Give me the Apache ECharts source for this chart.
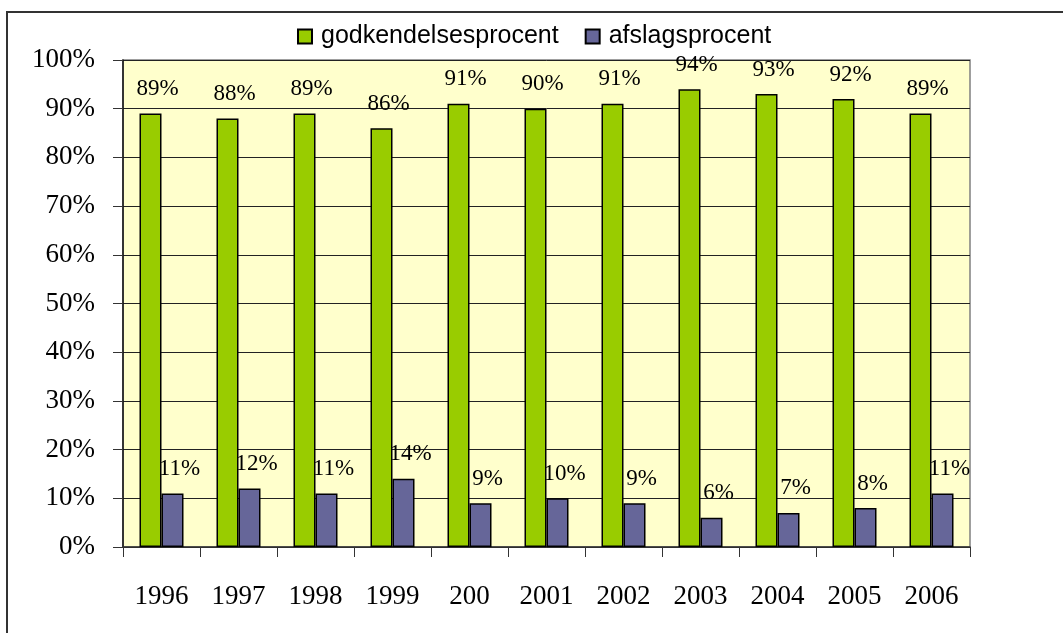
<!doctype html>
<html lang="da">
<head>
    <meta charset="utf-8">
    <title>godkendelsesprocent / afslagsprocent</title>
    <script src="https://cdn.jsdelivr.net/npm/echarts@6/dist/echarts.min.js"></script>
    <style>
        html, body { margin: 0; padding: 0; background: #ffffff; }
        #main { width: 1063px; height: 633px; }
    </style>
</head>
<body>
<div id="main"></div>
<script type="text/javascript">
    // data
    var years = ['1996', '1997', '1998', '1999', '200', '2001', '2002', '2003', '2004', '2005', '2006'];
    var godkendelse = [89, 88, 89, 86, 91, 90, 91, 94, 93, 92, 89];
    var afslag = [11, 12, 11, 14, 9, 10, 9, 6, 7, 8, 11];
    var yTicks = [0, 10, 20, 30, 40, 50, 60, 70, 80, 90, 100];

    var serif = 'Liberation Serif, Times New Roman, serif';
    var sans = 'Liberation Sans, Arial, sans-serif';

    var chart = echarts.init(document.getElementById('main'));

    function barLabel() {
        return {
            show: true,
            position: 'top',
            distance: 13,
            offset: [7, 0],
            formatter: '{c}%',
            fontFamily: serif,
            fontSize: 23,
            color: '#000'
        };
    }

    var option = {
        animation: false,
        backgroundColor: '#ffffff',
        graphic: [{
            type: 'rect',
            shape: { x: 7, y: 12, width: 1200, height: 800 },
            style: { fill: 'none', stroke: '#333', lineWidth: 2 },
            silent: true
        }],
        legend: {
            left: 292,
            top: 19,
            itemWidth: 14,
            itemHeight: 14,
            itemGap: 26,
            icon: 'rect',
            textStyle: { fontFamily: sans, fontSize: 25, color: '#000', padding: [0, 0, 0, 4] },
            data: ['godkendelsesprocent', 'afslagsprocent']
        },
        grid: {
            left: 123,
            right: 93,
            top: 60,
            bottom: 86,
            show: true,
            backgroundColor: '#FFFFCC',
            borderColor: '#808080',
            borderWidth: 1.5
        },
        xAxis: {
            type: 'category',
            data: years,
            axisLine: { lineStyle: { color: '#333', width: 1.5 } },
            axisTick: { show: true, length: 10, lineStyle: { color: '#333' } },
            axisLabel: { fontFamily: serif, fontSize: 27, color: '#000', margin: 36 }
        },
        yAxis: {
            type: 'value',
            min: yTicks[0],
            max: yTicks[yTicks.length - 1],
            interval: 10,
            axisLine: { show: true, lineStyle: { color: '#111', width: 1.5 } },
            axisTick: { show: true, length: 10, lineStyle: { color: '#333' } },
            axisLabel: { fontFamily: serif, fontSize: 27, color: '#000', margin: 28, formatter: '{value}%' },
            splitLine: { lineStyle: { color: '#222', width: 1 } }
        },
        series: [
            {
                name: 'godkendelsesprocent',
                type: 'bar',
                data: godkendelse,
                barWidth: 22,
                barGap: '0%',
                itemStyle: { color: '#99CC00', borderColor: '#000', borderWidth: 1.5 },
                label: barLabel()
            },
            {
                name: 'afslagsprocent',
                type: 'bar',
                data: afslag,
                barWidth: 22,
                itemStyle: { color: '#666699', borderColor: '#000', borderWidth: 1.5 },
                label: barLabel()
            }
        ]
    };

    option && chart.setOption(option);
</script>
</body>
</html>
